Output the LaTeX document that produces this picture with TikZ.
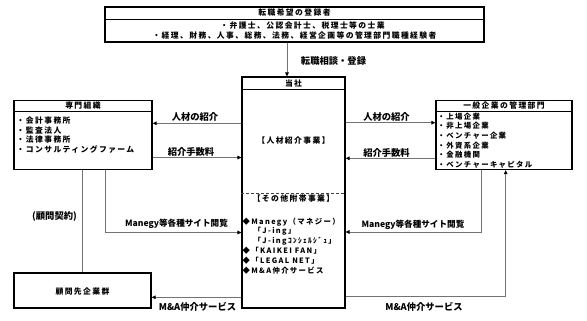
\documentclass[tikz,border=0pt]{standalone}
\usepackage{fontspec}
\newfontfamily\jp{Noto Sans CJK JP}
\newfontfamily\jpsp{Noto Sans CJK JP}[LetterSpace=18]
\usetikzlibrary{arrows.meta}
\tikzset{
  box/.style={draw=black, line width=1.2pt, inner sep=0pt},
  divl/.style={draw=black, line width=0.8pt},
  conn/.style={draw=black!55, line width=0.9pt},
  arr/.style={conn, -{Triangle[length=4pt,width=3.6pt,color=black]}},
  tx/.style={font=\jpsp\bfseries\fontsize{7.8}{10}\selectfont, inner sep=0pt},
  txl/.style={tx, anchor=west},
  sm/.style={font=\jpsp\bfseries\fontsize{7.4}{9}\selectfont, inner sep=0pt, anchor=west},
  lbl/.style={font=\jp\bfseries\fontsize{9.3}{11}\selectfont, inner sep=0pt},
  lbn/.style={font=\jp\bfseries\fontsize{8.6}{10}\selectfont, inner sep=0pt},
}
\begin{document}
\begin{tikzpicture}[x=1pt,y=-1pt]
\useasboundingbox (0,0) rectangle (587,321);
% boxes
\node[box, minimum width=379pt, minimum height=35pt] (reg) at (294.5,24.5) {};
\node[box, minimum width=103pt, minimum height=231pt] (cen) at (293.5,192.5) {};
\node[box, minimum width=138pt, minimum height=69pt] (lft) at (83,135) {};
\node[box, minimum width=136pt, minimum height=69pt] (rgt) at (504,135) {};
\node[box, minimum width=137pt, minimum height=35pt] (adv) at (82.5,290.5) {};
% dividers
\draw[divl] (reg.west |- 0,19) -- (reg.east |- 0,19);
\draw[divl] (cen.west |- 0,89) -- (cen.east |- 0,89);
\draw[divl] (lft.west |- 0,111.5) -- (lft.east |- 0,111.5);
\draw[divl] (rgt.west |- 0,111.5) -- (rgt.east |- 0,111.5);
\draw[draw=black!75, line width=1pt, dash pattern=on 3pt off 2pt] (cen.west |- 0,193) -- (cen.east |- 0,193);
% top box text
\node[tx] (regt) at (294.5,13) {転職希望の登録者};
\node[tx] (reg1) at (302.5,26) {・弁護士、公認会計士、税理士等の士業};
\node[tx] (reg2) at (294.5,36) {・経理、財務、人事、総務、法務、経営企画等の管理部門職種経験者};
% center box text
\node[tx] (cent) at (293.5,83.5) {当社};
\node[tx] (cen1) at (293.5,141) {【人材紹介事業】};
\node[tx] (cen2) at (293.5,199) {【その他附帯事業】};
\node[sm] (c1) at (242.5,222.5) {◆Manegy（マネジー）};
\node[sm] (c2) at (253.5,231.7) {「J-ing」};
\node[sm] (c3) at (253.5,241.5) {「J-ingｺﾝｼｪﾙｼﾞｭ」};
\node[sm] (c4) at (242.5,251) {◆「KAIKEI FAN」};
\node[sm] (c5) at (242.5,261) {◆「LEGAL NET」};
\node[sm] (c6) at (242.5,270.5) {◆M\&A仲介サービス};
% left box text
\node[tx] (lftt) at (83,106) {専門組織};
\node[txl] (l1) at (16.5,120.5) {・会計事務所};
\node[txl] (l2) at (16.5,130.2) {・監査法人};
\node[txl] (l3) at (16.5,139.7) {・法律事務所};
\node[txl] (l4) at (16.5,149.2) {・コンサルティングファーム};
% right box text
\node[tx] (rgtt) at (504,106) {一般企業の管理部門};
\node[sm] (r1) at (437.5,116.7) {・上場企業};
\node[sm] (r2) at (437.5,126.2) {・非上場企業};
\node[sm] (r3) at (437.5,135.7) {・ベンチャー企業};
\node[sm] (r4) at (437.5,145.3) {・外資系企業};
\node[sm] (r5) at (437.5,155) {・金融機関};
\node[sm] (r6) at (437.5,164.7) {・ベンチャーキャピタル};
% bottom-left box text
\node[tx] (advt) at (82.5,291.5) {顧問先企業群};
% connectors
\draw[arr] (reg.south -| 287,0) -- (cen.north -| 287,0);
\node[lbl] (l0) at (333.5,61) {転職相談・登録};

\draw[arr] (cen.west |- 0,123.3) -- (lft.east |- 0,123.3);
\node[lbl] at (195,117.3) {人材の紹介};
\draw[arr] (lft.east |- 0,157.5) -- (cen.west |- 0,157.5);
\node[lbl] at (191,151.5) {紹介手数料};

\draw[arr] (cen.east |- 0,122.7) -- (rgt.west |- 0,122.7);
\node[lbl] at (386.5,117.3) {人材の紹介};
\draw[arr] (rgt.west |- 0,158.3) -- (cen.east |- 0,158.3);
\node[lbl] at (386.5,153.3) {紹介手数料};

\draw[arr] (lft.south -| 105.5,0) |- (cen.west |- 0,232.5);
\node[lbn] at (176.5,223.3) {Manegy等各種サイト閲覧};
\draw[arr] (rgt.south -| 481.7,0) |- (cen.east |- 0,232);
\node[lbn] at (413,224.3) {Manegy等各種サイト閲覧};

\draw[conn] (lft.south -| 82.7,0) -- (adv.north -| 82.7,0);
\node[lbl] at (54.5,216.7) {(顧問契約)};

\draw[arr] (cen.west |- 0,297.3) -- (adv.east |- 0,297.3);
\node[lbl] at (197.5,307) {M\&A仲介サービス};
\draw[arr] (cen.east |- 0,296.7) -| (rgt.south -| 505.7,0);
\node[lbl] at (424,307) {M\&A仲介サービス};
\end{tikzpicture}
\end{document}
